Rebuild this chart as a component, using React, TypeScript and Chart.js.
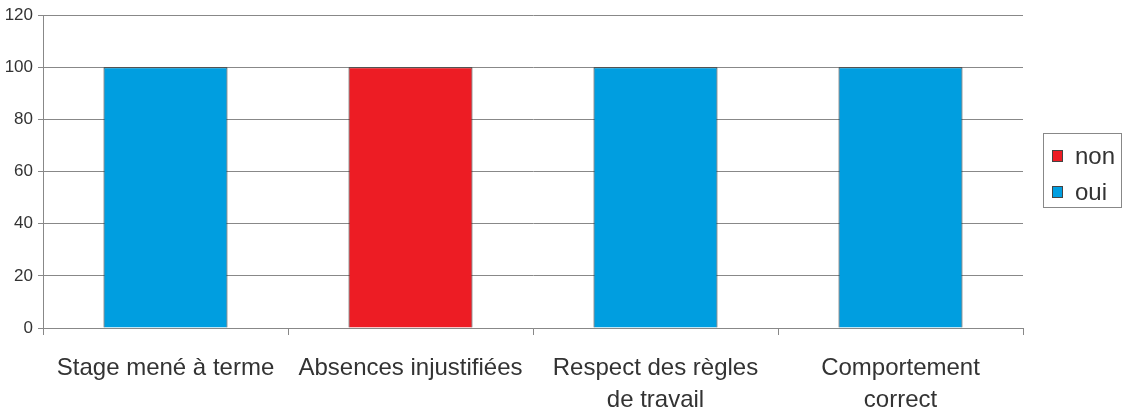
import React, { useEffect, useRef } from "react";
import { Chart, registerables } from "chart.js";

Chart.register(...registerables);

const categories: (string | string[])[] = [
  "Stage mené à terme",
  "Absences injustifiées",
  ["Respect des règles", "de travail"],
  ["Comportement", "correct"],
];
const nonValues: (number | null)[] = [null, 100, null, null];
const ouiValues: (number | null)[] = [100, null, 100, 100];
const seriesNames = ["non", "oui"];
const seriesColors = ["#ED1C24", "#009EE0"];

const FONT = "'Liberation Sans', Arial, sans-serif";

const boxLegend = {
  id: "boxLegend",
  afterDraw(chart: any) {
    const ctx = chart.ctx;
    const x = 1043.5, y = 133.5, w = 78, h = 74;
    ctx.save();
    ctx.strokeStyle = "#888";
    ctx.lineWidth = 1;
    ctx.strokeRect(x, y, w, h);
    ctx.font = `24px ${FONT}`;
    ctx.textBaseline = "middle";
    chart.data.datasets.forEach((ds: any, i: number) => {
      const cy = 156 + i * 36;
      ctx.fillStyle = ds.backgroundColor;
      ctx.fillRect(1052, cy - 6, 11, 12);
      ctx.strokeStyle = "#444";
      ctx.strokeRect(1052.5, cy - 5.5, 10, 11);
      ctx.fillStyle = "#333";
      ctx.fillText(ds.label, 1075, cy + 1);
    });
    ctx.restore();
  },
};

export default function App() {
  const ref = useRef<HTMLCanvasElement>(null);
  useEffect(() => {
    document.body.style.margin = "0";
    const chart = new Chart(ref.current!, {
      type: "bar",
      data: {
        labels: categories,
        datasets: [
          {
            label: seriesNames[0],
            data: nonValues,
            backgroundColor: seriesColors[0],
            borderColor: "#2a2a2a",
            borderWidth: 1,
            barPercentage: 0.506,
            categoryPercentage: 1,
          },
          {
            label: seriesNames[1],
            data: ouiValues,
            backgroundColor: seriesColors[1],
            borderColor: "#2a2a2a",
            borderWidth: 1,
            barPercentage: 0.506,
            categoryPercentage: 1,
          },
        ],
      },
      options: {
        animation: false,
        responsive: false,
        layout: { padding: { top: 14, right: 100, left: 0, bottom: 0 } },
        plugins: { legend: { display: false }, tooltip: { enabled: false } },
        scales: {
          x: {
            stacked: true,
            grid: {
              offset: true,
              drawOnChartArea: false,
              color: "#888",
              tickLength: 7,
            },
            border: { color: "#888" },
            ticks: {
              color: "#333",
              font: { family: FONT, size: 24, lineHeight: 1.35 },
              padding: 17,
              maxRotation: 0,
              autoSkip: false,
            },
            afterFit(scale: any) {
              scale.height = 86;
            },
          },
          y: {
            stacked: true,
            min: 0,
            max: 120,
            ticks: {
              stepSize: 20,
              color: "#333",
              font: { family: FONT, size: 17 },
              padding: 5,
            },
            grid: { color: "#888", tickLength: 5 },
            border: { color: "#888" },
            afterFit(scale: any) {
              scale.width = 43;
            },
          },
        },
      },
      plugins: [boxLegend],
    });
    return () => chart.destroy();
  }, []);
  return (
    <div style={{ position: "fixed", left: 0, top: 0, width: 1123, height: 414 }}>
      <canvas ref={ref} width={1123} height={414} />
    </div>
  );
}
